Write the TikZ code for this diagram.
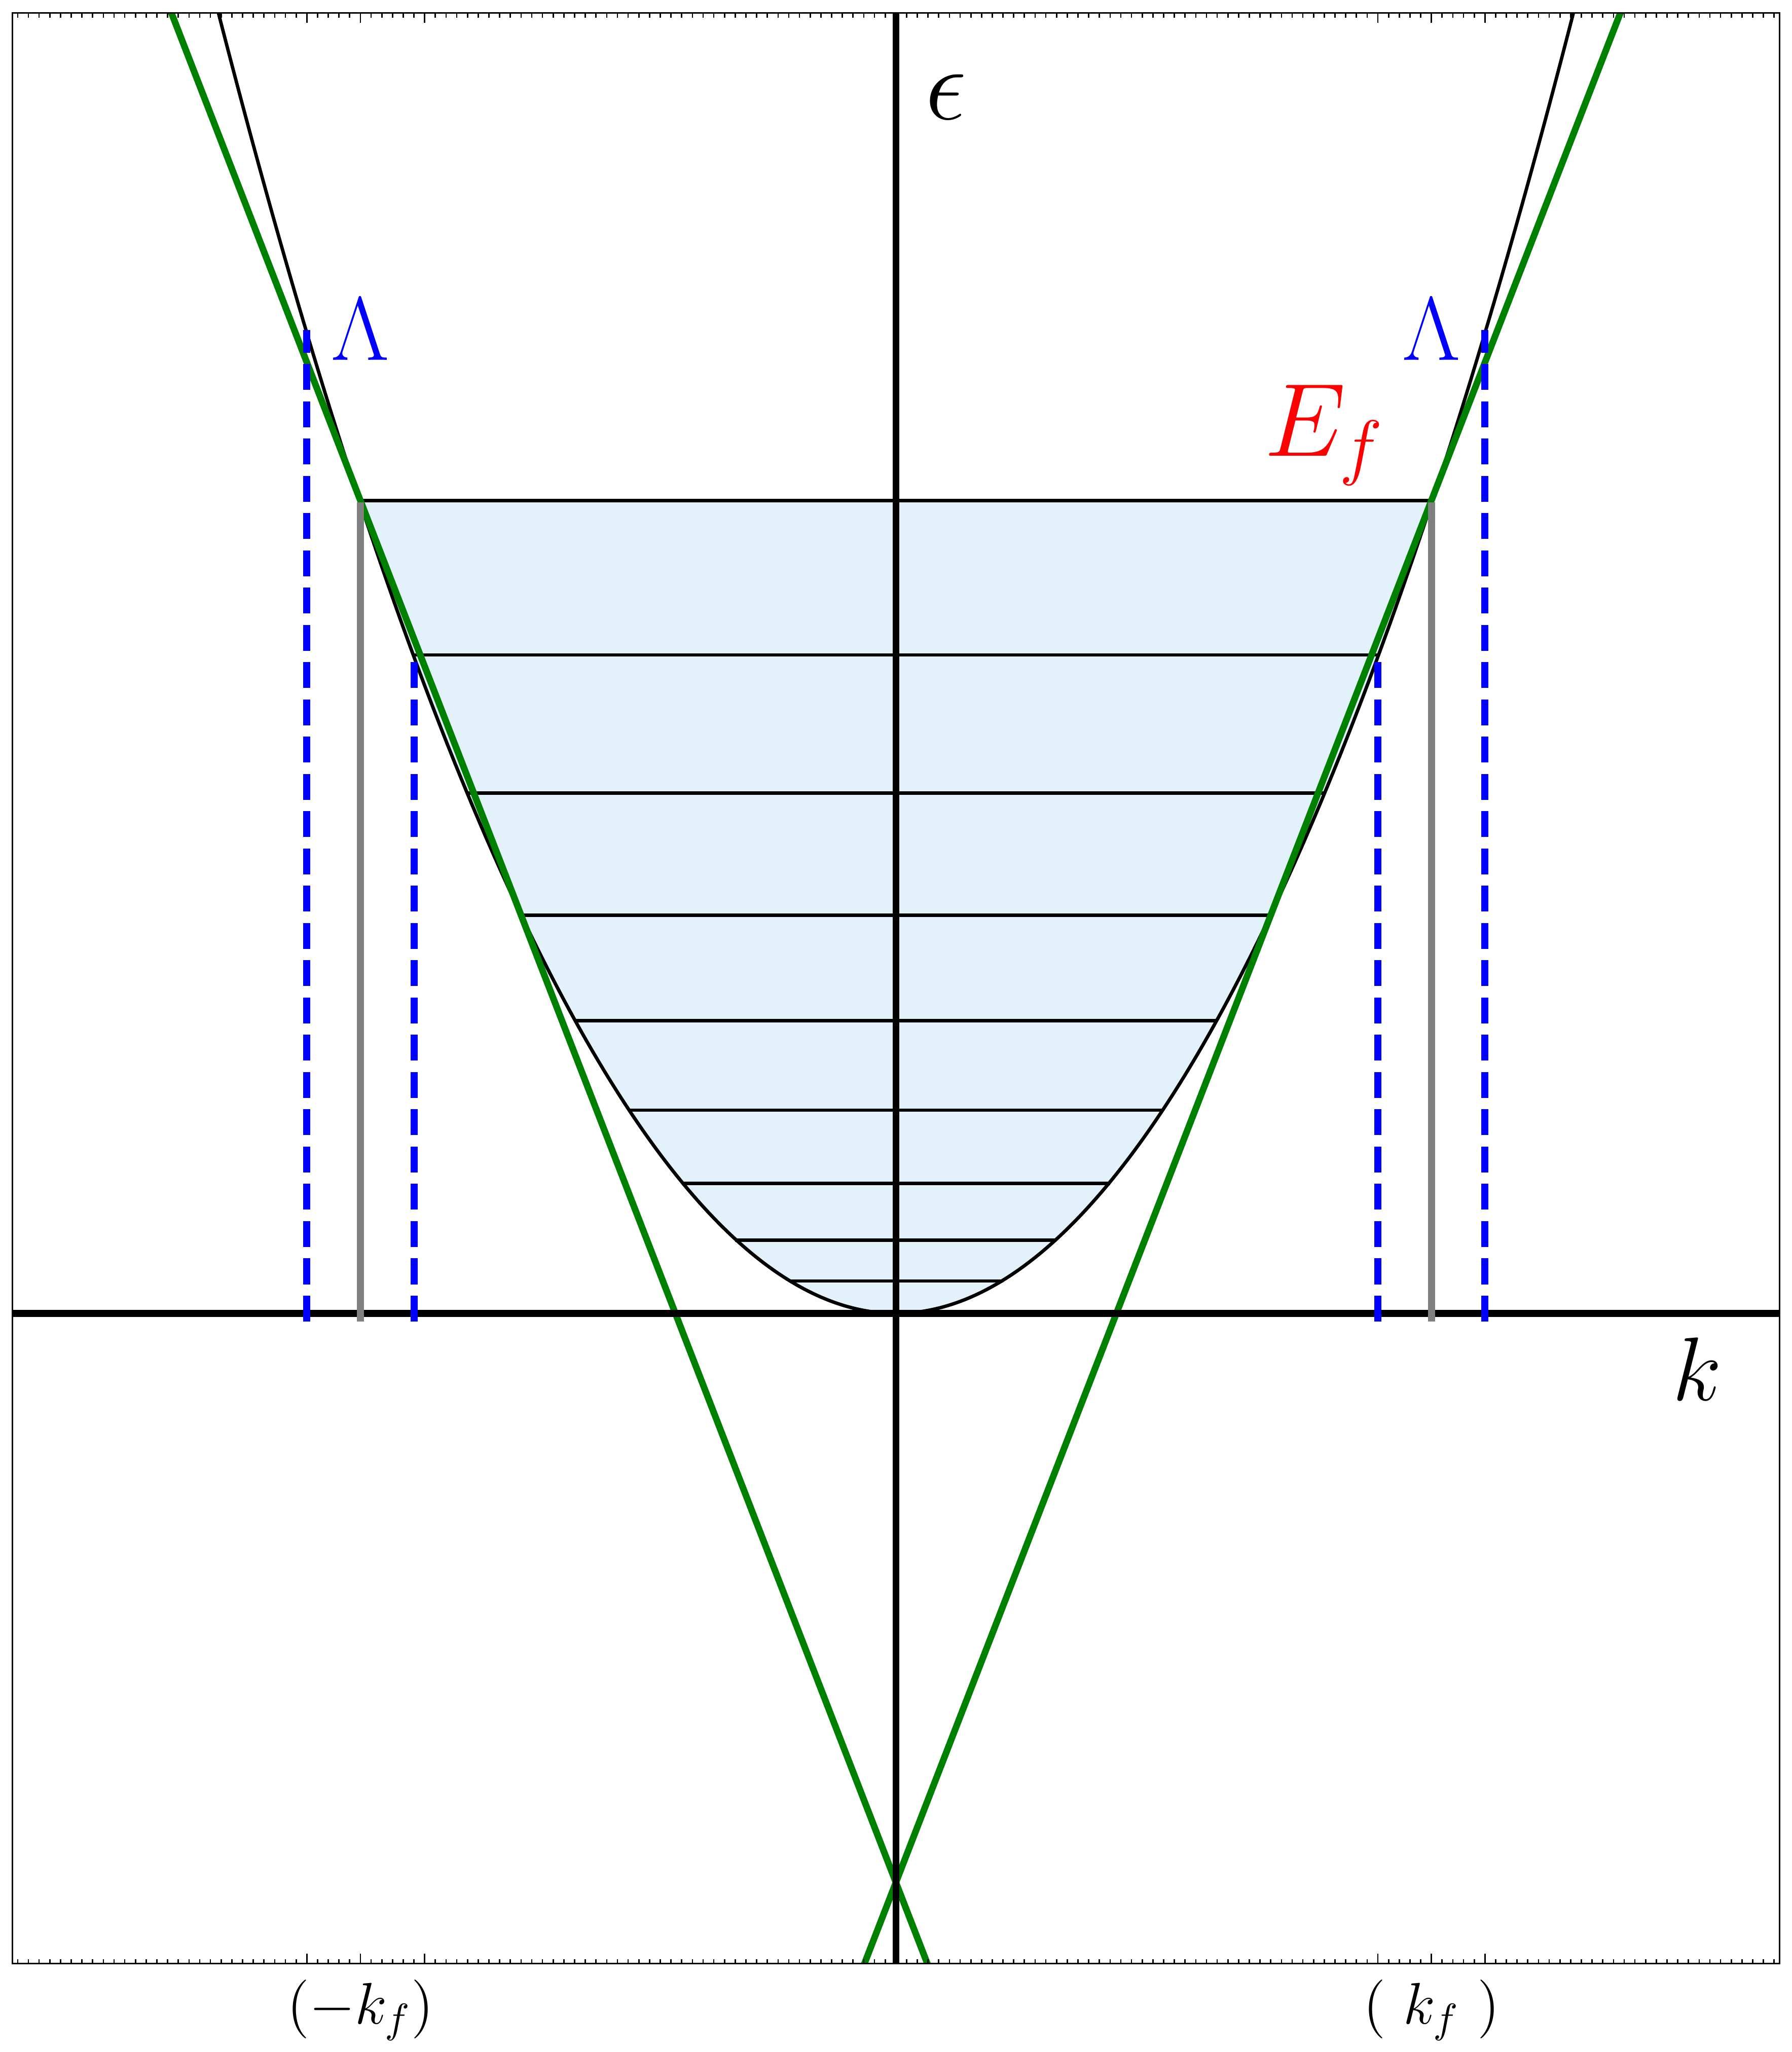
\RequirePackage{fix-cm}
\documentclass[tikz,border=0pt]{standalone}
\usepackage{amsmath}
\usetikzlibrary{calc}
\definecolor{levelfill}{RGB}{227,241,251}
\definecolor{bandgreen}{RGB}{0,128,0}
\definecolor{cutblue}{RGB}{0,0,255}
\definecolor{fermired}{RGB}{255,0,0}
\definecolor{kfgray}{RGB}{128,128,128}

\begin{document}
\begin{tikzpicture}[x=5cm, y=7.59cm,
lvl/.style={draw=black, line width=0.9pt},
band/.style={draw=bandgreen, line width=1.75pt},
cut/.style={draw=cutblue, line width=1.9pt, dash pattern=on 6.9pt off 3pt},
kfline/.style={draw=kfgray, line width=1.9pt},
ax/.style={draw=black, line width=1.8pt},
tk/.style={draw=black, line width=0.36pt},
lbl/.style={inner sep=0pt, anchor=base, font=\fontsize{24}{28}\selectfont},
biglbl/.style={inner sep=0pt, anchor=base, font=\fontsize{27.6}{32}\selectfont},
ticklbl/.style={inner sep=0pt, anchor=base, font=\fontsize{15.6}{19}\selectfont}
]

\useasboundingbox (-1.673,-0.9086) rectangle (1.673,1.6158);

\begin{scope}
\clip (-1.65,-0.8) rectangle (1.65,1.6);
\fill[levelfill] (-1,1) parabola bend (0,0) (1,1) -- cycle;
\foreach \n in {2,...,10}
  \draw[lvl] ({-\n/10},{(\n/10)^2}) -- ({\n/10},{(\n/10)^2});
\draw[lvl] (-1.3,1.69) parabola bend (0,0) (1.3,1.69);

\draw[band] (-1.4,1.68) -- (0.1,-0.87);
\draw[band] (1.4,1.68) -- (-0.1,-0.87);

\draw[ax] (-1.65,0) -- (1.65,0);
\draw[ax] (0,-0.8) -- (0,1.6);

\draw[kfline] (-1,-0.01) -- ($(-1,1)+(0pt,-0.45pt)$);
\draw[kfline] (1,-0.01) -- ($(1,1)+(0pt,-0.45pt)$);
\foreach \q in {-1.1,-0.9,0.9,1.1}
  \draw[cut] (\q,-0.01) -- (\q,{(\q)^2});
\end{scope}

\draw[line width=0.4pt] (-1.65,-0.8) rectangle (1.65,1.6);
\foreach \i in {-82,...,82} {
  \draw[tk] ({\i/50},-0.8) -- ++(0pt,1.25pt);
  \draw[tk] ({\i/50},1.6) -- ++(0pt,-1.25pt);
}
\foreach \q in {-1.1,-1,-0.88,0.9,1,1.1} {
  \draw[tk] (\q,-0.8) -- ++(0pt,2.7pt);
  \draw[tk] (\q,1.6) -- ++(0pt,-2.7pt);
}

\node[biglbl] (eps) at (0.093,1.469) {$\epsilon$};
\node[lbl] (klbl) at (1.496,-0.107) {$k$};
\node[lbl, text=cutblue] (lamL) at (-1,1.173) {$\Lambda$};
\node[lbl, text=cutblue] (lamR) at (1,1.173) {$\Lambda$};
\node[biglbl, text=fermired] (ef) at (0.8,1.055) {$E_f$};
\node[ticklbl] (kfL) at (-1,-0.874) {$(-k_f)$};
\node[ticklbl] (kfR) at (1,-0.874) {$(\ k_f\ )$};

\end{tikzpicture}
\end{document}
